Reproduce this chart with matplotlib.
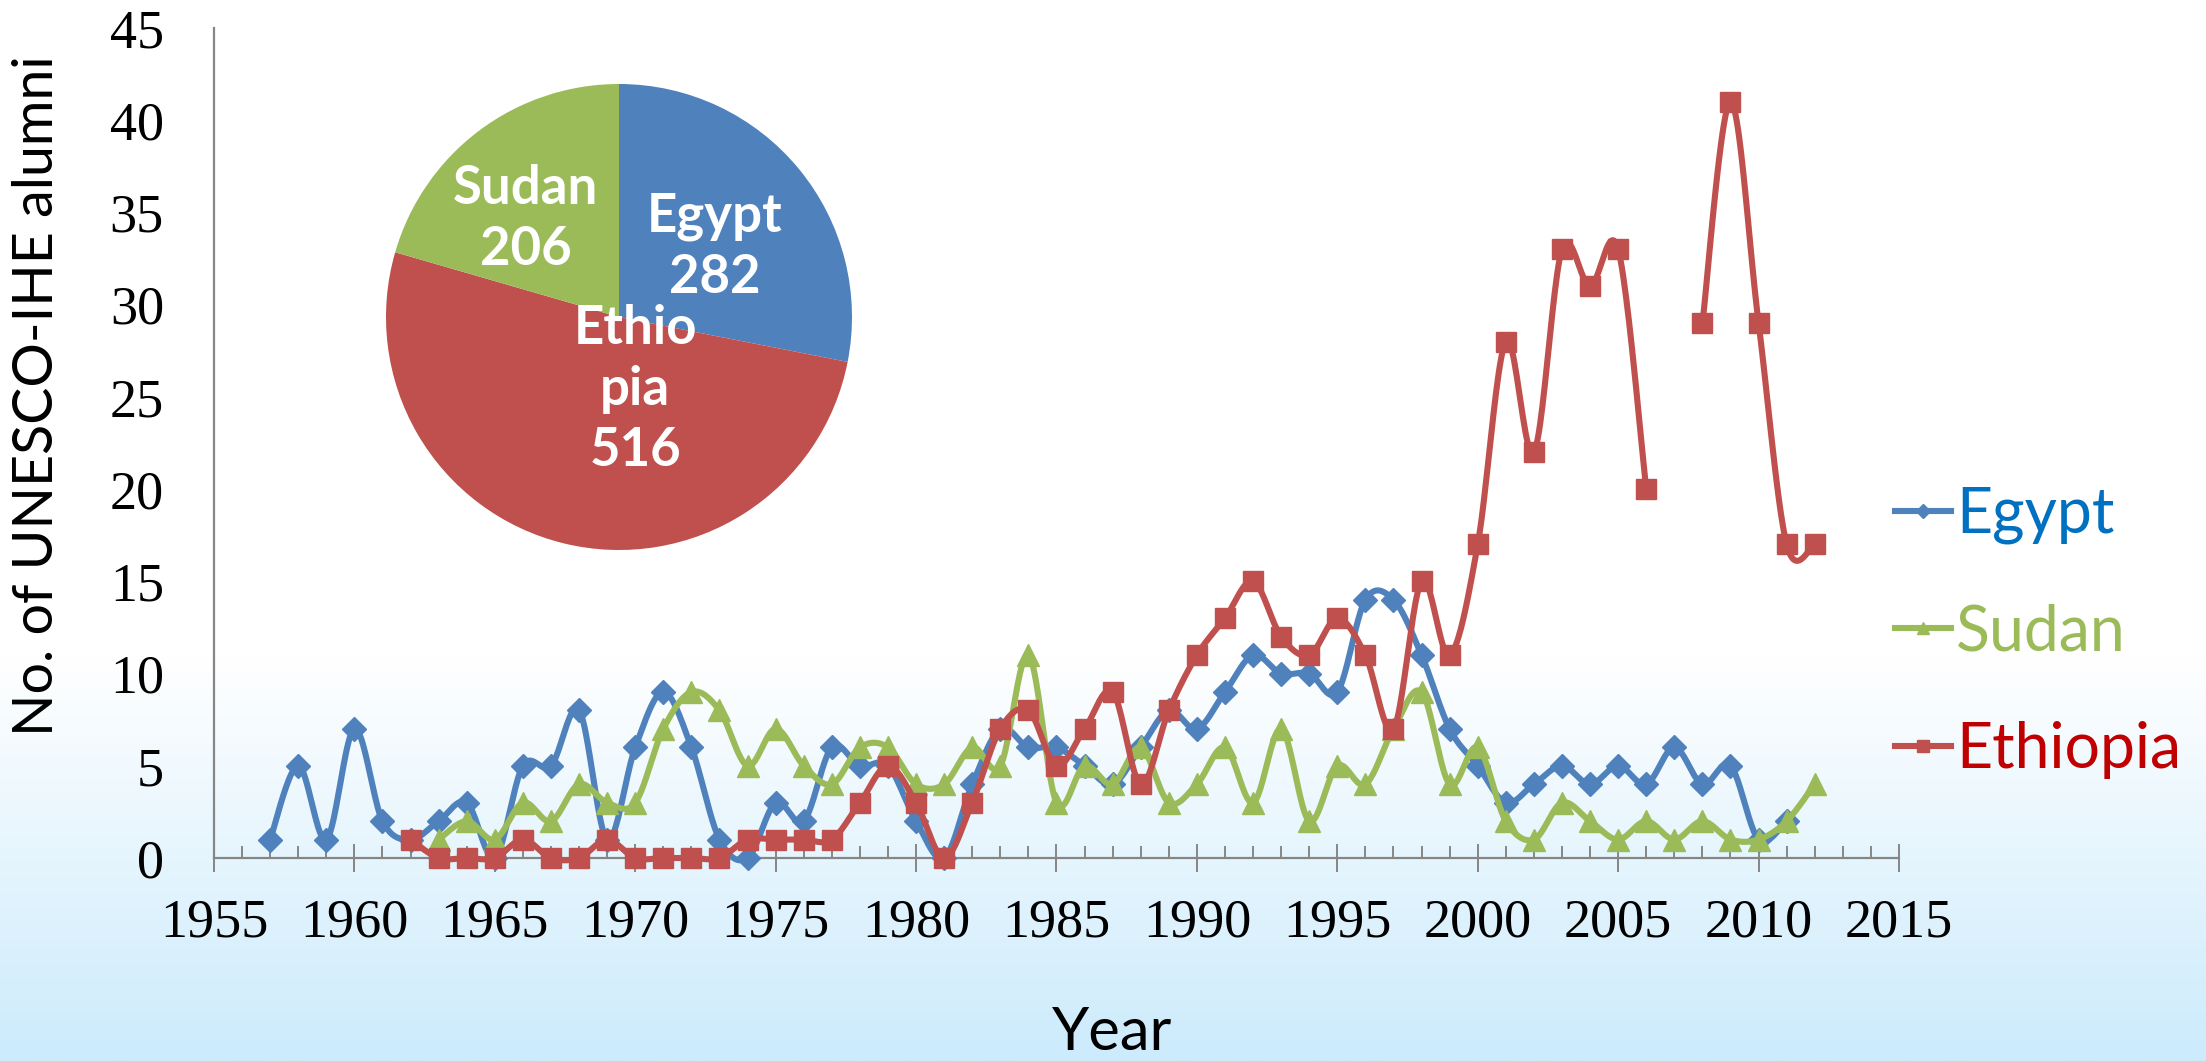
import numpy as np
import matplotlib
matplotlib.use("Agg")
import matplotlib.pyplot as plt
from matplotlib.lines import Line2D
from matplotlib.ticker import MultipleLocator

# ---------------- data ----------------
egypt_years = list(range(1957, 2012))
egypt_vals = [1, 5, 1, 7, 2, 1, 2, 3, 0, 5,
              5, 8, 1, 6, 9, 6, 1, 0, 3, 2,
              6, 5, 5, 2, 0, 4, 7, 6, 6, 5,
              4, 6, 8, 7, 9, 11, 10, 10, 9, 14,
              14, 11, 7, 5, 3, 4, 5, 4, 5, 4,
              6, 4, 5, 1, 2]

sudan_years = list(range(1963, 2013))
sudan_vals = [1, 2, 1, 3, 2, 4, 3, 3, 7, 9,
              8, 5, 7, 5, 4, 6, 6, 4, 4, 6,
              5, 11, 3, 5, 4, 6, 3, 4, 6, 3,
              7, 2, 5, 4, 7, 9, 4, 6, 2, 1,
              3, 2, 1, 2, 1, 2, 1, 1, 2, 4]

ethiopia_years = list(range(1962, 2013))
ethiopia_vals = [1, 0, 0, 0, 1, 0, 0, 1, 0, 0,
                 0, 0, 1, 1, 1, 1, 3, 5, 3, 0,
                 3, 7, 8, 5, 7, 9, 4, 8, 11, 13,
                 15, 12, 11, 13, 11, 7, 15, 11, 17, 28,
                 22, 33, 31, 33, 20, np.nan, 29, 41, 29, 17, 17]

pie_labels = ["Egypt", "Ethiopia", "Sudan"]
pie_texts = ["Egypt\n282", "Ethio\npia\n516", "Sudan\n206"]
pie_values = [282, 516, 206]

series_names = ["Egypt", "Sudan", "Ethiopia"]

# ---------------- style ----------------
C_EGY = "#4F81BD"
C_SUD = "#9BBB59"
C_ETH = "#C0504D"
AX_GRAY = "#868686"
SANS = ["Lato", "DejaVu Sans"]
SERIF = ["Liberation Serif", "DejaVu Serif"]

W, H = 2206, 1061
fig = plt.figure(figsize=(W / 100, H / 100), dpi=100)

# background gradient
bg = fig.add_axes([0, 0, 1, 1], zorder=-10)
rows = np.linspace(0, 1, 400)
y0 = 0.62
t = np.clip((rows - y0) / (1 - y0), 0, 1)
top = np.array([1.0, 1.0, 1.0])
bot = np.array([204, 235, 252]) / 255.0
grad = top[None, :] * (1 - t[:, None]) + bot[None, :] * t[:, None]
bg.imshow(grad[:, None, :], aspect="auto", extent=[0, 1, 1, 0])
bg.set_axis_off()


def smooth(xs, ys, n=24):
    xs = np.asarray(xs, float)
    ys = np.asarray(ys, float)
    if len(xs) < 2:
        return xs, ys
    P = np.column_stack([xs, ys])
    P = np.vstack([P[0], P, P[-1]])
    out = []
    tt = np.linspace(0, 1, n)
    for i in range(len(xs) - 1):
        p0, p1, p2, p3 = P[i], P[i + 1], P[i + 2], P[i + 3]
        c1 = p1 + (p2 - p0) / 6.0
        c2 = p2 - (p3 - p1) / 6.0
        b = ((1 - tt) ** 3)[:, None] * p1 + (3 * (1 - tt) ** 2 * tt)[:, None] * c1 \
            + (3 * (1 - tt) * tt ** 2)[:, None] * c2 + (tt ** 3)[:, None] * p2
        out.append(b if i == 0 else b[1:])
    out = np.vstack(out)
    return out[:, 0], out[:, 1]


def segments(xs, ys):
    xs = np.asarray(xs, float)
    ys = np.asarray(ys, float)
    ok = ~np.isnan(ys)
    segs, cur = [], []
    for x, y, k in zip(xs, ys, ok):
        if k:
            cur.append((x, y))
        elif cur:
            segs.append(cur)
            cur = []
    if cur:
        segs.append(cur)
    return segs


# main axes
L, R = 214 / W, 1899 / W
B, T = (H - 858) / H, (H - 28) / H
ax = fig.add_axes([L, B, R - L, T - B])
ax.set_facecolor("none")
ax.set_xlim(1955, 2015)
ax.set_ylim(0, 45)

LW = 4.4
specs = [
    (egypt_years, egypt_vals, C_EGY, "D", 12, 3),
    (sudan_years, sudan_vals, C_SUD, "^", 15.5, 4),
    (ethiopia_years, ethiopia_vals, C_ETH, "s", 15, 5),
]
for yrs, vals, col, mk, ms, z in specs:
    for seg in segments(yrs, vals):
        sx, sy = zip(*seg)
        cx, cy = smooth(sx, sy)
        ax.plot(cx, cy, color=col, lw=LW, solid_capstyle="round", zorder=z, clip_on=False)
        ax.plot(sx, sy, ls="none", marker=mk, ms=ms, color=col, mec=col, zorder=z, clip_on=False)

for s in ["top", "right"]:
    ax.spines[s].set_visible(False)
for s in ["left", "bottom"]:
    ax.spines[s].set_color(AX_GRAY)
    ax.spines[s].set_linewidth(1.6)

ax.xaxis.set_major_locator(MultipleLocator(5))
ax.xaxis.set_minor_locator(MultipleLocator(1))
ax.yaxis.set_major_locator(MultipleLocator(5))
ax.tick_params(axis="x", which="major", direction="inout", length=20, width=1.4,
               color=AX_GRAY, pad=19, labelsize=39)
ax.tick_params(axis="x", which="minor", direction="in", length=8.5, width=1.4, color=AX_GRAY)
ax.tick_params(axis="y", which="both", length=0, pad=36, labelsize=39)
for lab in ax.get_xticklabels() + ax.get_yticklabels():
    lab.set_family(SERIF)

# axis titles
fig.text(38 / W, 1 - 396 / H, "No. of UNESCO-IHE alumni", rotation=90,
         ha="center", va="center", fontsize=40, family=SANS)
fig.text(1112 / W, 0.001, "Year", ha="center", va="bottom",
         fontsize=43, family=SANS)

# legend
handles = [Line2D([], [], color=c, lw=LW, marker=m, ms=ms * 0.6)
           for c, m, ms in [(C_EGY, "D", 12), (C_SUD, "^", 15.5), (C_ETH, "s", 15)]]
leg = fig.legend(handles, series_names, loc="center left",
                 bbox_to_anchor=(1895 / W, 1 - 632 / H), frameon=False,
                 prop={"family": SANS, "size": 45}, handlelength=0.9,
                 handletextpad=0.08, labelspacing=0.95, borderpad=0, borderaxespad=0)
for txt, c in zip(leg.get_texts(), ["#0070C0", C_SUD, "#C00000"]):
    txt.set_color(c)

# inset pie
pie_ax = fig.add_axes([386 / W, 1 - 550 / H, 466 / W, 466 / H])
pie_ax.pie(pie_values, colors=[C_EGY, C_ETH, C_SUD], startangle=90, counterclock=False,
           wedgeprops={"linewidth": 0})
pie_ax.set_aspect("equal")
pie_ax.set_xlim(-1, 1)
pie_ax.set_ylim(-1, 1)
label_pos = [(0.41, 0.30), (0.07, -0.31), (-0.40, 0.42)]
for (px, py), txt in zip(label_pos, pie_texts):
    pie_ax.text(px, py, txt, ha="center", va="center", color="white", fontsize=38,
                fontweight="bold", family=SANS, linespacing=1.3)

fig.savefig("out.png", dpi=100)
